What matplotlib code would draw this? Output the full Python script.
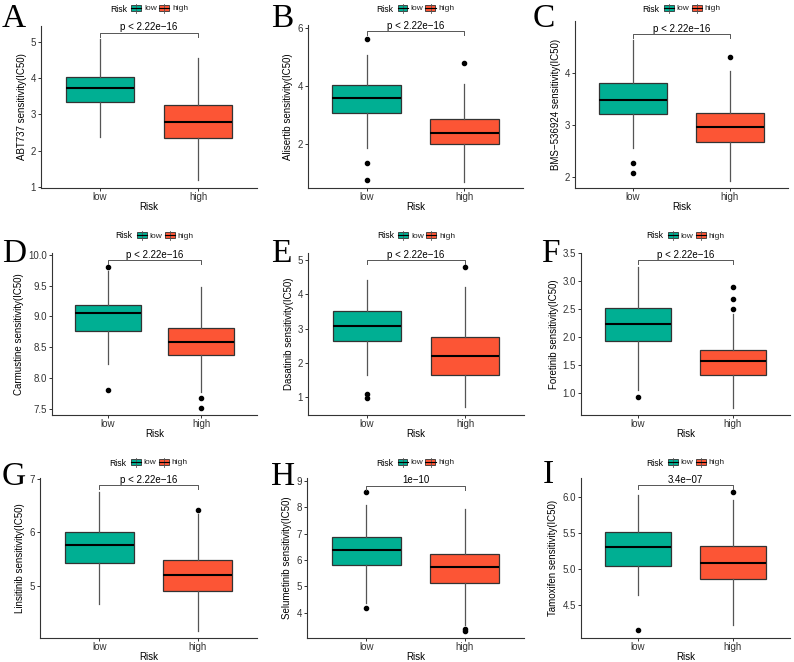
import matplotlib
matplotlib.use("Agg")
import matplotlib.pyplot as plt
from matplotlib.patches import Rectangle
from matplotlib.lines import Line2D

plt.rcParams['font.family'] = ['Liberation Sans', 'DejaVu Sans']

# ---- data ----
drugs = ['ABT737', 'Alisertib', 'BMS\u2212536924', 'Carmustine', 'Dasatinib',
         'Foretinib', 'Linsitinib', 'Selumetinib', 'Tamoxifen']
letters = ['A', 'B', 'C', 'D', 'E', 'F', 'G', 'H', 'I']
groups = ['low', 'high']
pvals = ['p < 2.22e\u221216'] * 7 + ['1e\u221210', '3.4e\u221207']

# [whisker low, q1, median, q3, whisker high]
low_box = [
    [2.38, 3.34, 3.73, 4.04, 5.06],
    [1.85, 3.06, 3.58, 4.03, 5.07],
    [2.55, 3.22, 3.48, 3.80, 4.63],
    [8.23, 8.77, 9.05, 9.18, 9.73],
    [1.65, 2.64, 3.07, 3.52, 4.41],
    [1.06, 1.93, 2.24, 2.51, 3.25],
    [4.65, 5.42, 5.76, 6.00, 6.75],
    [4.38, 5.82, 6.37, 6.89, 8.09],
    [4.64, 5.04, 5.31, 5.51, 6.03],
]
high_box = [
    [1.20, 2.35, 2.79, 3.27, 4.55],
    [0.70, 2.00, 2.36, 2.86, 4.06],
    [1.93, 2.67, 2.96, 3.24, 4.04],
    [7.78, 8.37, 8.59, 8.82, 9.47],
    [0.70, 1.66, 2.19, 2.76, 4.21],
    [0.74, 1.33, 1.57, 1.77, 2.42],
    [4.16, 4.90, 5.20, 5.47, 6.34],
    [3.54, 5.12, 5.75, 6.24, 7.93],
    [4.23, 4.86, 5.09, 5.32, 5.96],
]
low_out = [[], [5.63, 1.34, 0.74], [2.28, 2.07], [9.80, 7.80], [1.10, 0.99],
           [0.93], [], [8.56, 4.19], [4.16]]
high_out = [[], [4.79], [4.31], [7.67, 7.52], [4.80], [2.89, 2.68, 2.50],
            [6.42], [3.39, 3.32], [6.07]]
bracket_y = [5.25, 5.88, 4.75, 9.91, 5.0, 3.37, 6.87, 8.81, 6.16]

yticks = [[1, 2, 3, 4, 5], [2, 4, 6], [2, 3, 4],
          [7.5, 8.0, 8.5, 9.0, 9.5, 10.0], [1, 2, 3, 4, 5],
          [1.0, 1.5, 2.0, 2.5, 3.0, 3.5], [5, 6, 7], [4, 5, 6, 7, 8, 9],
          [4.5, 5.0, 5.5, 6.0]]
ylims = [(0.98, 5.43), (0.48, 6.10), (1.79, 5.00), (7.40, 10.03), (0.48, 5.21),
         (0.61, 3.50), (4.02, 7.01), (3.04, 9.11), (4.05, 6.26)]

colors = ['#00AF93', '#FC5535']

# ---- layout in pixels ----
W, H = 794, 662
# x0, x1, y_top, y_bottom of each panel's axes
rects = [(41, 257, 26, 188), (308, 523, 25, 188), (575, 788, 21, 188),
         (52, 257, 253, 415), (308, 524, 253, 415), (581, 790, 253, 415),
         (40, 257, 478, 638), (307, 524, 478, 638), (581, 790, 478, 638)]
legend_y = [8, 8, 8, 235, 235, 235, 462, 462, 462]
letter_pos = [(2, 27), (271, 27), (533, 27), (2, 262), (271, 262), (541, 262),
              (2, 485), (271, 485), (543, 483)]

fig = plt.figure(figsize=(W / 100, H / 100), dpi=100)


def fx(x):
    return x / W


def fy(y):
    return 1 - y / H


def draw_legend(cx, cy):
    t = fig.transFigure
    fig.text(fx(cx - 39), fy(cy), 'Risk', fontsize=6.2, va='center_baseline', ha='left')
    for k, (off, lab) in enumerate([(-18, 'low'), (10, 'high')]):
        x0 = cx + off
        fig.add_artist(Line2D([fx(x0 + 5), fx(x0 + 5)], [fy(cy - 4.5), fy(cy + 4.5)],
                              color='#555555', lw=0.6, transform=t))
        fig.add_artist(Rectangle((fx(x0), fy(cy + 3)), 10 / W, 6 / H, transform=t,
                                 facecolor=colors[k], edgecolor='#333333', lw=0.6))
        fig.add_artist(Line2D([fx(x0), fx(x0 + 10)], [fy(cy), fy(cy)],
                              color='black', lw=0.8, transform=t))
        fig.text(fx(x0 + 13), fy(cy), lab, fontsize=6, va='center_baseline', ha='left',
                 color='#222222')


for i in range(9):
    x0, x1, yt, yb = rects[i]
    ax = fig.add_axes([fx(x0), fy(yb), (x1 - x0) / W, (yb - yt) / H])
    stats = []
    for box, out in [(low_box[i], low_out[i]), (high_box[i], high_out[i])]:
        stats.append({'whislo': box[0], 'q1': box[1], 'med': box[2],
                      'q3': box[3], 'whishi': box[4], 'fliers': out})
    bp = ax.bxp(stats, positions=[1, 2], widths=0.7, patch_artist=True,
                showcaps=False,
                boxprops=dict(edgecolor='#333333', linewidth=0.9),
                medianprops=dict(color='black', linewidth=1.5),
                whiskerprops=dict(color='#555555', linewidth=0.9),
                flierprops=dict(marker='o', markersize=3, markerfacecolor='black',
                                markeredgecolor='black'))
    for patch, c in zip(bp['boxes'], colors):
        patch.set_facecolor(c)

    ax.set_xlim(0.4, 2.6)
    ax.set_ylim(*ylims[i])
    ax.set_xticks([1, 2])
    ax.set_xticklabels(groups)
    ax.set_yticks(yticks[i])
    if isinstance(yticks[i][0], float):
        ax.set_yticklabels(['%.1f' % v for v in yticks[i]])
    for s in ['top', 'right']:
        ax.spines[s].set_visible(False)
    for s in ['left', 'bottom']:
        ax.spines[s].set_color('#333333')
        ax.spines[s].set_linewidth(0.8)
    ax.tick_params(labelsize=7, colors='#333333', length=2.5, width=0.7, pad=1)
    ax.tick_params(axis='x', pad=0.5)
    ax.set_xlabel('Risk', fontsize=7, labelpad=0)
    ax.set_ylabel(drugs[i] + ' sensitivity(IC50)', fontsize=7, labelpad=3)

    # significance bracket
    yr = ylims[i][1] - ylims[i][0]
    tick = 4 * yr / (yb - yt)
    yb_ = bracket_y[i]
    ax.plot([1, 1, 2, 2], [yb_ - tick, yb_, yb_, yb_ - tick], color='#555555', lw=0.7,
            clip_on=False)
    ax.annotate(pvals[i], xy=(1.5, yb_), xytext=(0, 0.3), textcoords='offset points',
                ha='center', va='bottom', fontsize=7, annotation_clip=False)

    draw_legend((x0 + x1) / 2, legend_y[i])
    lx, ly = letter_pos[i]
    fig.text(fx(lx), fy(ly), letters[i], fontsize=24, family='Liberation Serif',
             ha='left', va='baseline')

fig.savefig('out.png', dpi=100)
